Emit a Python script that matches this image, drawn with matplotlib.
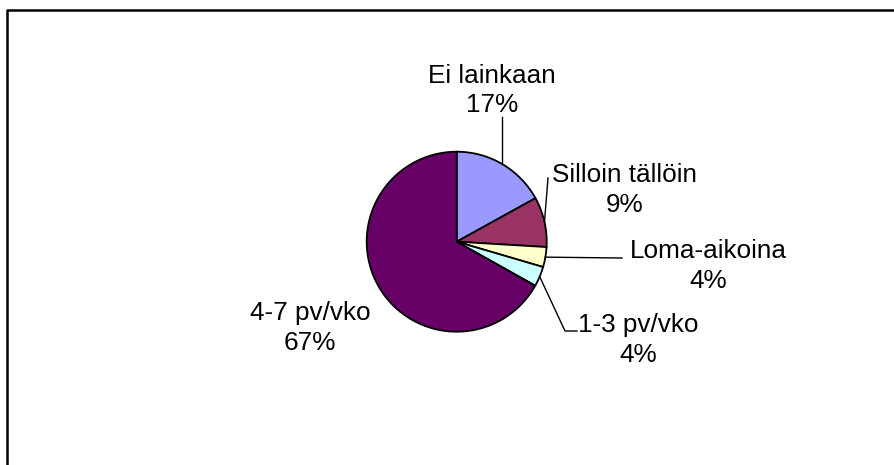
import numpy as np
import matplotlib
matplotlib.use("Agg")
import matplotlib.pyplot as plt

categories = ["Ei lainkaan", "Silloin tällöin", "Loma-aikoina", "1-3 pv/vko", "4-7 pv/vko"]
values = [17, 9, 3.6, 3.6, 67]
pct_labels = ["17%", "9%", "4%", "4%", "67%"]
colors = ["#9999FF", "#993366", "#FFFFCC", "#CCFFFF", "#660066"]

W, H = 895, 465
fig = plt.figure(figsize=(W / 100, H / 100), dpi=100)
ax = fig.add_axes([0, 0, 1, 1])
plt.rcParams['font.family'] = ['Liberation Sans', 'DejaVu Sans']

cx, cy, r = 456.7, H - 241.7, 90
wedges, _ = ax.pie(values, colors=colors, startangle=90, counterclock=False,
                   center=(cx, cy), radius=r,
                   wedgeprops=dict(edgecolor="black", linewidth=1.3))
ax.set_xlim(0, W)
ax.set_ylim(0, H)
ax.set_aspect('equal')
ax.axis('off')

# label layout (pixel coords, y from top): (x center, baseline1, baseline2)
label_pos = [(492, 83, 112), (625, 182, 212), (708, 258, 288), (638, 332, 362), (310, 320, 350)]
# leader line end points (y from top), list of points after edge point
leader_ends = [[(None, 117)], [(548, 178)], [(622, 258)], [(565, 331), (577, 331)], None]

fs = 18.8
for i, w in enumerate(wedges):
    x, b1, b2 = label_pos[i]
    ax.text(x, H - b1, categories[i], ha='center', va='baseline', fontsize=fs, color='black')
    ax.text(x, H - b2, pct_labels[i], ha='center', va='baseline', fontsize=fs, color='black')
    if leader_ends[i] is not None:
        mid = np.deg2rad((w.theta1 + w.theta2) / 2)
        ex, ey = cx + r * np.cos(mid), cy + r * np.sin(mid)
        xs = [ex] + [ex if p[0] is None else p[0] for p in leader_ends[i]]
        ys = [ey] + [H - p[1] for p in leader_ends[i]]
        ax.plot(xs, ys, color='black', linewidth=1.0)

# chart frame (top and left visible)
ax.plot([7.5, 7.5, W + 10], [-10, H - 9.5, H - 9.5], color='black', linewidth=1.8, clip_on=False)

fig.savefig("out.png", dpi=100)
